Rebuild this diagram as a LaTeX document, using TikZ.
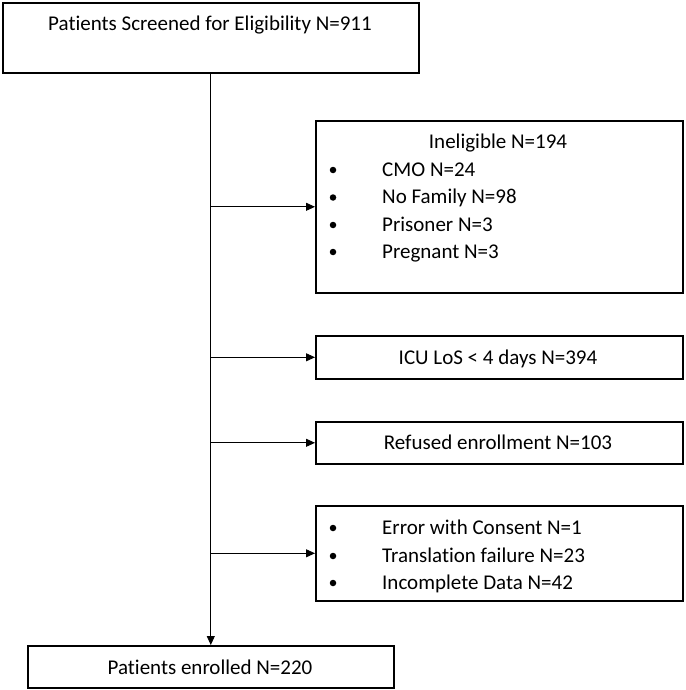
\documentclass[tikz,border=0pt]{standalone}
\usepackage{fontspec}
\setmainfont{Carlito}[Ligatures={NoCommon}]
\usetikzlibrary{arrows.meta}
\tikzset{
  box/.style={draw, line width=1.6pt, inner sep=0pt, anchor=north west},
  flow/.style={line width=0.9pt, -{Triangle[length=9pt,width=8pt]}},
  txt/.style={anchor=base, inner sep=0pt, font=\fontsize{21}{27}\selectfont},
  item/.style={anchor=base west, inner sep=0pt, font=\fontsize{21}{27}\selectfont},
  bul/.style={circle, fill, inner sep=0pt, minimum size=6.5pt},
}
\newcommand{\bitem}[3]{ \node[bul] (#1dot) at (333, #2 - 6) {}; \node[item] (#1) at (382, #2) {#3};}

\begin{document}
\begin{tikzpicture}[x=1pt, y=-1pt]
\useasboundingbox (0,0) rectangle (685,690);
% boxes
\node[box, minimum width=416, minimum height=70] (screen) at (2,2) {};
\node[box, minimum width=367, minimum height=172] (inel) at (315,120) {};
\node[box, minimum width=367, minimum height=43] (icu) at (315,335) {};
\node[box, minimum width=367, minimum height=42] (refused) at (315,421) {};
\node[box, minimum width=367, minimum height=95] (other) at (315,505) {};
\node[box, minimum width=366, minimum height=42] (enrolled) at (27,645) {};
% texts
\node[txt] (screentxt) at (210,31) {Patients Screened for Eligibility N=911};
\node[txt] (ineltxt) at (498,148) {Ineligible N=194};
\bitem{cmo}{176}{CMO N=24}
\bitem{nofam}{203.5}{No Family N=98}
\bitem{prison}{231}{Prisoner N=3}
\bitem{preg}{258}{Pregnant N=3}
\node[txt] (icutxt) at (498,364) {ICU LoS < 4 days N=394};
\node[txt] (refusedtxt) at (498,449) {Refused enrollment N=103};
\bitem{consent}{534}{Error with Consent N=1}
\bitem{transl}{562}{Translation failure N=23}
\bitem{incompl}{589}{Incomplete Data N=42}
\node[txt] (enrolledtxt) at (210,674) {Patients enrolled N=220};
% connectors
\draw[flow] (screen.south) -- (enrolled.north);
\draw[flow] (screen.south |- inel.west) -- (inel.west);
\draw[flow] (screen.south |- icu.west) -- (icu.west);
\draw[flow] (screen.south |- refused.west) -- (refused.west);
\draw[flow] (screen.south |- other.west) -- (other.west);
\end{tikzpicture}
\end{document}
